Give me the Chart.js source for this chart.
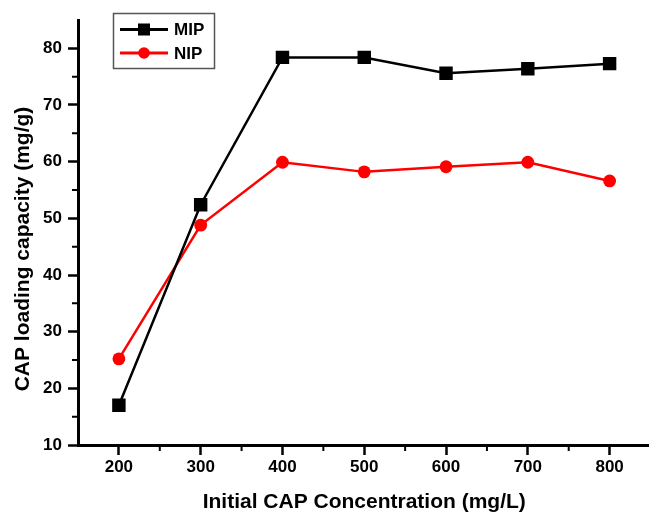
<!DOCTYPE html>
<html><head><meta charset="utf-8">
<script src="https://cdn.jsdelivr.net/npm/chart.js@4/dist/chart.umd.min.js"></script>
<style>
html,body{margin:0;padding:0;background:#fff;overflow:hidden;width:649px;height:513px}
#wrap{position:absolute;left:0;top:0;width:660px;height:513px}
</style>
</head><body><div id="wrap"><canvas id="c" width="660" height="513"></canvas></div>
<script>
const concentrations = [200, 300, 400, 500, 600, 700, 800];
const mipValues = [17.0, 52.4, 78.4, 78.4, 75.6, 76.4, 77.3];
const nipValues = [25.2, 48.8, 59.9, 58.2, 59.1, 59.9, 56.6];
const xTickValues = [200, 300, 400, 500, 600, 700, 800];
const yTickValues = [10, 20, 30, 40, 50, 60, 70, 80];
const xMinorTicks = [250, 350, 450, 550, 650, 750, 850];
const yMinorTicks = [15, 25, 35, 45, 55, 65, 75];
const seriesNames = ['MIP', 'NIP'];
const xTitle = 'Initial CAP Concentration (mg/L)';
const yTitle = 'CAP loading capacity (mg/g)';

const FONT = "'Liberation Sans', Arial, Helvetica, sans-serif";

const minorTicksPlugin = {
  id: 'minorTicks',
  afterDraw(chart) {
    const { ctx, scales: { x, y }, chartArea } = chart;
    ctx.save();
    ctx.strokeStyle = '#000';
    ctx.lineWidth = 2;
    ctx.beginPath();
    xMinorTicks.forEach(v => {
      const px = x.getPixelForValue(v);
      ctx.moveTo(px, chartArea.bottom);
      ctx.lineTo(px, chartArea.bottom + 6);
    });
    yMinorTicks.forEach(v => {
      const py = y.getPixelForValue(v);
      ctx.moveTo(chartArea.left, py);
      ctx.lineTo(chartArea.left - 6, py);
    });
    ctx.stroke();
    ctx.restore();
  }
};

const legendPlugin = {
  id: 'boxLegend',
  afterDraw(chart) {
    const ctx = chart.ctx;
    ctx.save();
    ctx.strokeStyle = '#555';
    ctx.lineWidth = 1.5;
    ctx.strokeRect(113.5, 13.5, 101, 55);
    const rows = [29.5, 53];
    chart.data.datasets.forEach((ds, i) => {
      const yy = rows[i];
      ctx.strokeStyle = ds.borderColor;
      ctx.lineWidth = 3;
      ctx.beginPath();
      ctx.moveTo(120, yy);
      ctx.lineTo(168, yy);
      ctx.stroke();
      ctx.fillStyle = ds.backgroundColor;
      Chart.helpers.drawPoint(ctx, {
        pointStyle: ds.pointStyle,
        radius: ds.pointStyle === 'rect' ? 8.5 : 5.8,
        borderWidth: 0,
        rotation: 0
      }, 144, yy);
      ctx.fillStyle = '#000';
      ctx.font = 'bold 17px ' + FONT;
      ctx.textBaseline = 'middle';
      ctx.textAlign = 'left';
      ctx.fillText(ds.label, 174, yy + 1);
    });
    ctx.restore();
  }
};

const yTitlePlugin = {
  id: 'yTitle',
  afterDraw(chart) {
    const ctx = chart.ctx;
    ctx.save();
    ctx.translate(23, 249);
    ctx.rotate(-Math.PI / 2);
    ctx.font = 'bold 21px ' + FONT;
    ctx.textAlign = 'center';
    ctx.textBaseline = 'middle';
    ctx.fillStyle = '#000';
    ctx.fillText(yTitle, 0, 0);
    ctx.restore();
  }
};

const tickFont = { family: FONT, size: 17, weight: 'bold' };

new Chart(document.getElementById('c').getContext('2d'), {
  type: 'line',
  data: {
    datasets: [
      {
        label: seriesNames[0],
        data: concentrations.map((x, i) => ({ x: x, y: mipValues[i] })),
        borderColor: '#000000',
        backgroundColor: '#000000',
        borderWidth: 2.5,
        pointStyle: 'rect',
        pointRadius: 9.5,
        pointBorderWidth: 0,
        tension: 0
      },
      {
        label: seriesNames[1],
        data: concentrations.map((x, i) => ({ x: x, y: nipValues[i] })),
        borderColor: '#ff0000',
        backgroundColor: '#ff0000',
        borderWidth: 2.5,
        pointStyle: 'circle',
        pointRadius: 6.4,
        pointBorderWidth: 0,
        tension: 0
      }
    ]
  },
  options: {
    responsive: false,
    devicePixelRatio: 1,
    animation: false,
    layout: { padding: { top: 20, right: 8, left: 0, bottom: 0 } },
    plugins: { legend: { display: false }, tooltip: { enabled: false } },
    scales: {
      x: {
        type: 'linear',
        min: 150,
        max: 850,
        afterBuildTicks: s => { s.ticks = xTickValues.map(v => ({ value: v })); },
        afterFit: s => { s.height = 68; },
        grid: { display: true, drawOnChartArea: false, drawTicks: true, tickLength: 10, tickColor: '#000', tickWidth: 2.5 },
        border: { display: true, color: '#000', width: 3 },
        ticks: { color: '#000', font: tickFont, padding: 2, maxRotation: 0, autoSkip: false },
        title: { display: true, text: xTitle, color: '#000', font: { family: FONT, size: 21, weight: 'bold', lineHeight: 1 }, padding: { top: 0, bottom: 0 } }
      },
      y: {
        type: 'linear',
        min: 10,
        max: 85,
        afterBuildTicks: s => { s.ticks = yTickValues.map(v => ({ value: v })); },
        afterFit: s => { s.width = 78; },
        grid: { display: true, drawOnChartArea: false, drawTicks: true, tickLength: 10, tickColor: '#000', tickWidth: 2.5 },
        border: { display: true, color: '#000', width: 3 },
        ticks: { color: '#000', font: tickFont, padding: 6, autoSkip: false },
        title: { display: false }
      }
    }
  },
  plugins: [minorTicksPlugin, legendPlugin, yTitlePlugin]
});
</script>
</body></html>
